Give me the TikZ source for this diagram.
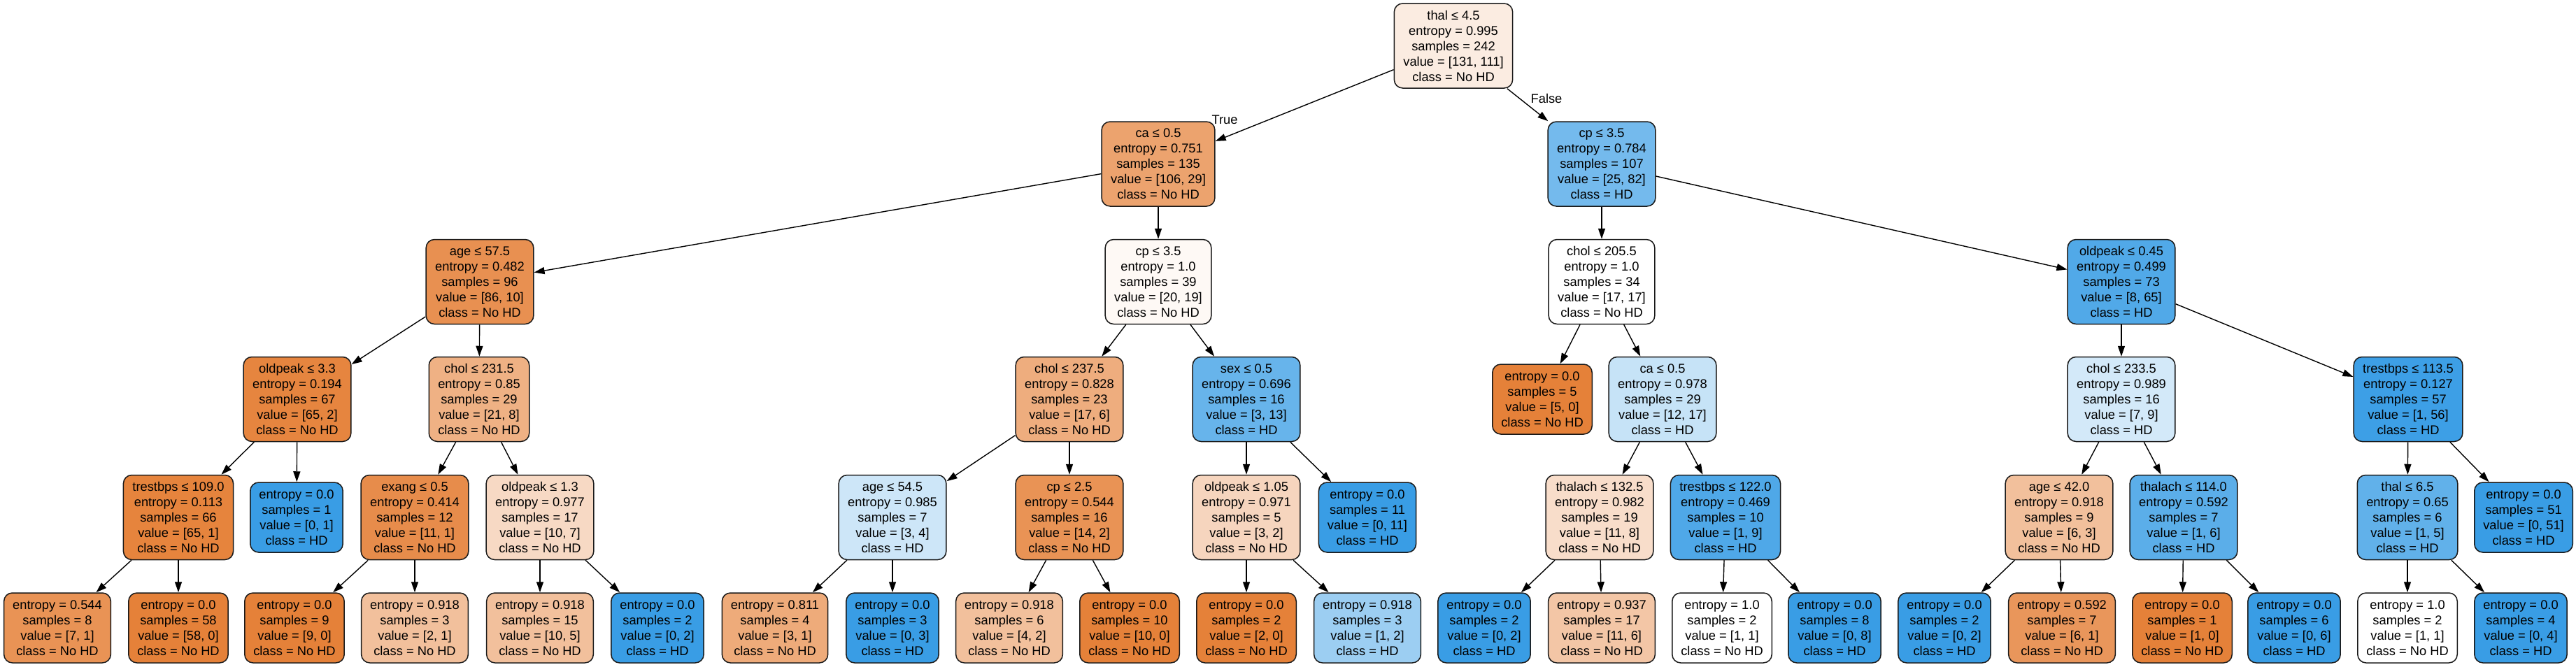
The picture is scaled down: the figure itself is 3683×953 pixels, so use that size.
\documentclass[tikz,border=0pt]{standalone}
\usepackage{fontspec}
\setmainfont{Liberation Sans}
\usepackage{xcolor}
\usepackage{tikz}
\usetikzlibrary{arrows.meta}
\definecolor{nohd}{HTML}{E58139}
\definecolor{hd}{HTML}{399DE5}
\tikzset{
    decision/.style={draw=black!90, line width=1.5pt, rounded corners=12pt, align=center, minimum height=121pt, inner xsep=13pt, inner ysep=0pt, font=\fontsize{18.3}{22}\selectfont},
    leafnode/.style={decision, minimum height=100pt, inner xsep=12.5pt},
    treeedge/.style={line width=1.4pt, -{Triangle[length=15pt, width=10pt]}},
    branchlabel/.style={font=\fontsize{18.3}{22}\selectfont, inner sep=0pt}
}

\begin{document}
\begin{tikzpicture}[x=1pt, y=-1pt]
    \useasboundingbox (0,0) rectangle (3683,953);
    % depth 0 and 1
    \node[decision, fill=nohd!15] (root) at (2078,65.5) {thal ≤ 4.5\\entropy = 0.995\\samples = 242\\value = [131, 111]\\class = No HD};
    \node[decision, fill=nohd!73] (ca1) at (1656,234.5) {ca ≤ 0.5\\entropy = 0.751\\samples = 135\\value = [106, 29]\\class = No HD};
    \node[decision, fill=hd!70] (cp1) at (2290,234.5) {cp ≤ 3.5\\entropy = 0.784\\samples = 107\\value = [25, 82]\\class = HD};
    % depth 2
    \node[decision, fill=nohd!88] (age1) at (686,403) {age ≤ 57.5\\entropy = 0.482\\samples = 96\\value = [86, 10]\\class = No HD};
    \node[decision, fill=nohd!5] (cp2) at (1656,403) {cp ≤ 3.5\\entropy = 1.0\\samples = 39\\value = [20, 19]\\class = No HD};
    \node[decision, fill=white] (chol1) at (2290,403) {chol ≤ 205.5\\entropy = 1.0\\samples = 34\\value = [17, 17]\\class = No HD};
    \node[decision, fill=hd!88] (oldpeak1) at (3033,403) {oldpeak ≤ 0.45\\entropy = 0.499\\samples = 73\\value = [8, 65]\\class = HD};
    % depth 3
    \node[decision, fill=nohd!97] (oldpeak2) at (425,571) {oldpeak ≤ 3.3\\entropy = 0.194\\samples = 67\\value = [65, 2]\\class = No HD};
    \node[decision, fill=nohd!62] (chol2) at (685,571) {chol ≤ 231.5\\entropy = 0.85\\samples = 29\\value = [21, 8]\\class = No HD};
    \node[decision, fill=nohd!65] (chol3) at (1529,571) {chol ≤ 237.5\\entropy = 0.828\\samples = 23\\value = [17, 6]\\class = No HD};
    \node[decision, fill=hd!77] (sex1) at (1782,571) {sex ≤ 0.5\\entropy = 0.696\\samples = 16\\value = [3, 13]\\class = HD};
    \node[leafnode, fill=nohd] (leafa) at (2205,571) {entropy = 0.0\\samples = 5\\value = [5, 0]\\class = No HD};
    \node[decision, fill=hd!29] (ca2) at (2377,571) {ca ≤ 0.5\\entropy = 0.978\\samples = 29\\value = [12, 17]\\class = HD};
    \node[decision, fill=hd!22] (chol4) at (3033,571) {chol ≤ 233.5\\entropy = 0.989\\samples = 16\\value = [7, 9]\\class = HD};
    \node[decision, fill=hd!98] (trestbps1) at (3443,571) {trestbps ≤ 113.5\\entropy = 0.127\\samples = 57\\value = [1, 56]\\class = HD};
    % depth 4
    \node[decision, fill=nohd!98] (trestbps2) at (255,740) {trestbps ≤ 109.0\\entropy = 0.113\\samples = 66\\value = [65, 1]\\class = No HD};
    \node[leafnode, fill=hd] (leafb) at (424,740) {entropy = 0.0\\samples = 1\\value = [0, 1]\\class = HD};
    \node[decision, fill=nohd!91] (exang1) at (593,740) {exang ≤ 0.5\\entropy = 0.414\\samples = 12\\value = [11, 1]\\class = No HD};
    \node[decision, fill=nohd!30] (oldpeak3) at (772,740) {oldpeak ≤ 1.3\\entropy = 0.977\\samples = 17\\value = [10, 7]\\class = No HD};
    \node[decision, fill=hd!25] (age2) at (1276,740) {age ≤ 54.5\\entropy = 0.985\\samples = 7\\value = [3, 4]\\class = HD};
    \node[decision, fill=nohd!86] (cp3) at (1529,740) {cp ≤ 2.5\\entropy = 0.544\\samples = 16\\value = [14, 2]\\class = No HD};
    \node[decision, fill=nohd!33] (oldpeak4) at (1782,740) {oldpeak ≤ 1.05\\entropy = 0.971\\samples = 5\\value = [3, 2]\\class = No HD};
    \node[leafnode, fill=hd] (leafc) at (1955,740) {entropy = 0.0\\samples = 11\\value = [0, 11]\\class = HD};
    \node[decision, fill=nohd!27] (thalach1) at (2287,740) {thalach ≤ 132.5\\entropy = 0.982\\samples = 19\\value = [11, 8]\\class = No HD};
    \node[decision, fill=hd!89] (trestbps3) at (2467,740) {trestbps ≤ 122.0\\entropy = 0.469\\samples = 10\\value = [1, 9]\\class = HD};
    \node[decision, fill=nohd!50] (age3) at (2944,740) {age ≤ 42.0\\entropy = 0.918\\samples = 9\\value = [6, 3]\\class = No HD};
    \node[decision, fill=hd!83] (thalach2) at (3122,740) {thalach ≤ 114.0\\entropy = 0.592\\samples = 7\\value = [1, 6]\\class = HD};
    \node[decision, fill=hd!80] (thal2) at (3442,740) {thal ≤ 6.5\\entropy = 0.65\\samples = 6\\value = [1, 5]\\class = HD};
    \node[leafnode, fill=hd] (leafd) at (3608,740) {entropy = 0.0\\samples = 51\\value = [0, 51]\\class = HD};
    % depth 5
    \node[leafnode, fill=nohd!86] (l1) at (82,898) {entropy = 0.544\\samples = 8\\value = [7, 1]\\class = No HD};
    \node[leafnode, fill=nohd] (l2) at (255,898) {entropy = 0.0\\samples = 58\\value = [58, 0]\\class = No HD};
    \node[leafnode, fill=nohd] (l3) at (421,898) {entropy = 0.0\\samples = 9\\value = [9, 0]\\class = No HD};
    \node[leafnode, fill=nohd!50] (l4) at (593,898) {entropy = 0.918\\samples = 3\\value = [2, 1]\\class = No HD};
    \node[leafnode, fill=nohd!50] (l5) at (772,898) {entropy = 0.918\\samples = 15\\value = [10, 5]\\class = No HD};
    \node[leafnode, fill=hd] (l6) at (940,898) {entropy = 0.0\\samples = 2\\value = [0, 2]\\class = HD};
    \node[leafnode, fill=nohd!67] (l7) at (1108,898) {entropy = 0.811\\samples = 4\\value = [3, 1]\\class = No HD};
    \node[leafnode, fill=hd] (l8) at (1276,898) {entropy = 0.0\\samples = 3\\value = [0, 3]\\class = HD};
    \node[leafnode, fill=nohd!50] (l9) at (1443,898) {entropy = 0.918\\samples = 6\\value = [4, 2]\\class = No HD};
    \node[leafnode, fill=nohd] (l10) at (1615,898) {entropy = 0.0\\samples = 10\\value = [10, 0]\\class = No HD};
    \node[leafnode, fill=nohd] (l11) at (1782,898) {entropy = 0.0\\samples = 2\\value = [2, 0]\\class = No HD};
    \node[leafnode, fill=hd!50] (l12) at (1955,898) {entropy = 0.918\\samples = 3\\value = [1, 2]\\class = HD};
    \node[leafnode, fill=hd] (l13) at (2122,898) {entropy = 0.0\\samples = 2\\value = [0, 2]\\class = HD};
    \node[leafnode, fill=nohd!45] (l14) at (2290,898) {entropy = 0.937\\samples = 17\\value = [11, 6]\\class = No HD};
    \node[leafnode, fill=white] (l15) at (2462,898) {entropy = 1.0\\samples = 2\\value = [1, 1]\\class = No HD};
    \node[leafnode, fill=hd] (l16) at (2623,898) {entropy = 0.0\\samples = 8\\value = [0, 8]\\class = HD};
    \node[leafnode, fill=hd] (l17) at (2780,898) {entropy = 0.0\\samples = 2\\value = [0, 2]\\class = HD};
    \node[leafnode, fill=nohd!83] (l18) at (2948,898) {entropy = 0.592\\samples = 7\\value = [6, 1]\\class = No HD};
    \node[leafnode, fill=nohd] (l19) at (3120,898) {entropy = 0.0\\samples = 1\\value = [1, 0]\\class = No HD};
    \node[leafnode, fill=hd] (l20) at (3280,898) {entropy = 0.0\\samples = 6\\value = [0, 6]\\class = HD};
    \node[leafnode, fill=white] (l21) at (3442,898) {entropy = 1.0\\samples = 2\\value = [1, 1]\\class = No HD};
    \node[leafnode, fill=hd] (l22) at (3604,898) {entropy = 0.0\\samples = 4\\value = [0, 4]\\class = HD};
    % edges
    \draw[treeedge] (root) -- (ca1); \draw[treeedge] (root) -- (cp1);
    \node[branchlabel] (truelbl) at (1751,171) {True};
    \node[branchlabel] (falselbl) at (2211,141) {False};
    \draw[treeedge] (ca1) -- (age1); \draw[treeedge] (ca1) -- (cp2);
    \draw[treeedge] (cp1) -- (chol1); \draw[treeedge] (cp1) -- (oldpeak1);
    \draw[treeedge] (age1) -- (oldpeak2); \draw[treeedge] (age1) -- (chol2);
    \draw[treeedge] (cp2) -- (chol3); \draw[treeedge] (cp2) -- (sex1);
    \draw[treeedge] (chol1) -- (leafa); \draw[treeedge] (chol1) -- (ca2);
    \draw[treeedge] (oldpeak1) -- (chol4); \draw[treeedge] (oldpeak1) -- (trestbps1);
    \draw[treeedge] (oldpeak2) -- (trestbps2); \draw[treeedge] (oldpeak2) -- (leafb);
    \draw[treeedge] (chol2) -- (exang1); \draw[treeedge] (chol2) -- (oldpeak3);
    \draw[treeedge] (chol3) -- (age2); \draw[treeedge] (chol3) -- (cp3);
    \draw[treeedge] (sex1) -- (oldpeak4); \draw[treeedge] (sex1) -- (leafc);
    \draw[treeedge] (ca2) -- (thalach1); \draw[treeedge] (ca2) -- (trestbps3);
    \draw[treeedge] (chol4) -- (age3); \draw[treeedge] (chol4) -- (thalach2);
    \draw[treeedge] (trestbps1) -- (thal2); \draw[treeedge] (trestbps1) -- (leafd);
    \draw[treeedge] (trestbps2) -- (l1); \draw[treeedge] (trestbps2) -- (l2);
    \draw[treeedge] (exang1) -- (l3); \draw[treeedge] (exang1) -- (l4);
    \draw[treeedge] (oldpeak3) -- (l5); \draw[treeedge] (oldpeak3) -- (l6);
    \draw[treeedge] (age2) -- (l7); \draw[treeedge] (age2) -- (l8);
    \draw[treeedge] (cp3) -- (l9); \draw[treeedge] (cp3) -- (l10);
    \draw[treeedge] (oldpeak4) -- (l11); \draw[treeedge] (oldpeak4) -- (l12);
    \draw[treeedge] (thalach1) -- (l13); \draw[treeedge] (thalach1) -- (l14);
    \draw[treeedge] (trestbps3) -- (l15); \draw[treeedge] (trestbps3) -- (l16);
    \draw[treeedge] (age3) -- (l17); \draw[treeedge] (age3) -- (l18);
    \draw[treeedge] (thalach2) -- (l19); \draw[treeedge] (thalach2) -- (l20);
    \draw[treeedge] (thal2) -- (l21); \draw[treeedge] (thal2) -- (l22);
\end{tikzpicture}
\end{document}
